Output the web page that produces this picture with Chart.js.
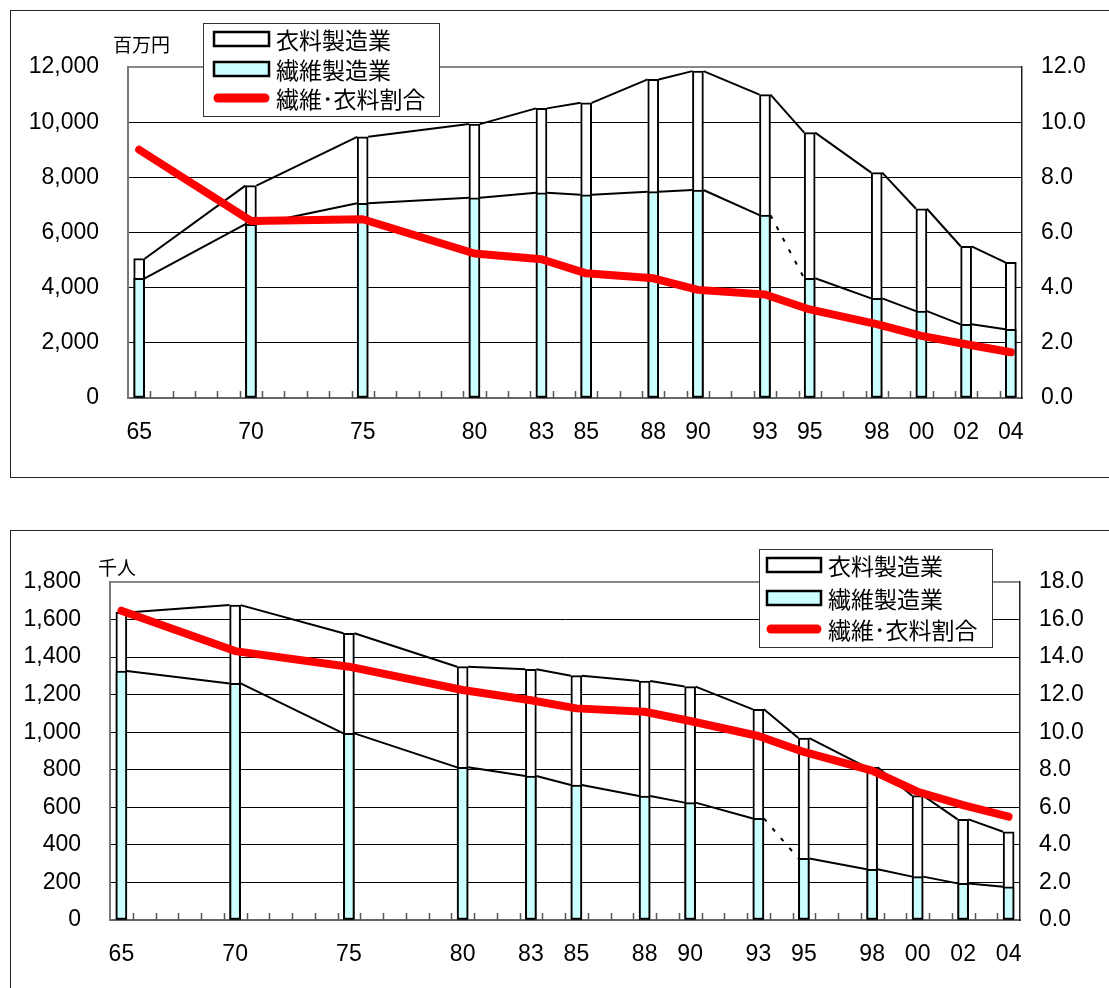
<!DOCTYPE html>
<html lang="ja">
<head>
<meta charset="utf-8">
<title>衣料製造業・繊維製造業の推移</title>
<script src="https://cdn.jsdelivr.net/npm/chart.js@4/dist/chart.umd.min.js"></script>
<style>
  html, body { margin: 0; padding: 0; background: #fff; overflow: hidden; }
  body { width: 1109px; height: 988px; position: relative; }
  .frame { position: absolute; border: 1px solid #222; box-sizing: border-box; }
  canvas { position: absolute; left: 0; }
</style>
</head>
<body>
<div class="frame" style="left:10px; top:10px; width:1200px; height:468px;"></div>
<div class="frame" style="left:10px; top:530px; width:1200px; height:520px;"></div>
<canvas id="salesChart" width="1109" height="500" style="top:0"></canvas>
<canvas id="workersChart" width="1109" height="488" style="top:500px"></canvas>

<script>
// ---- data ----
const years = [1965, 1970, 1975, 1980, 1983, 1985, 1988, 1990, 1993, 1995, 1998, 2000, 2002, 2004];
const yearLabels = ['65', '70', '75', '80', '83', '85', '88', '90', '93', '95', '98', '00', '02', '04'];
const seriesNames = ['衣料製造業', '繊維製造業', '繊維･衣料割合'];

// 出荷額 (百万円)
const salesApparel = [5050, 7700, 9470, 9930, 10500, 10700, 11550, 11850, 11000, 9620, 8170, 6860, 5500, 4920];
const salesTextile = [4340, 6300, 7060, 7260, 7440, 7370, 7480, 7540, 6630, 4340, 3610, 3150, 2670, 2490];
const salesRatio   = [9.0, 6.42, 6.48, 5.24, 5.03, 4.52, 4.34, 3.92, 3.75, 3.21, 2.68, 2.25, 1.95, 1.66];

// 従業者数 (千人)
const workersApparel = [1638, 1677, 1527, 1349, 1335, 1301, 1273, 1243, 1122, 969, 813, 662, 536, 470];
const workersTextile = [1326, 1260, 994, 813, 767, 719, 660, 625, 541, 328, 270, 231, 195, 177];
const workersRatio   = [16.47, 14.32, 13.49, 12.25, 11.7, 11.27, 11.09, 10.6, 9.8, 8.95, 7.95, 6.83, 6.12, 5.5];

// 1993→1995 は統計区分の変更により点線で接続
const textileBreakYear = 1993;

// ---- plugins ----
// lines joining the tops of neighbouring bars
const seriesLines = {
  id: 'seriesLines',
  beforeDatasetDraw(chart, args) {
    if (chart.data.datasets[args.index].type !== 'line') return;
    const ctx = chart.ctx;
    chart.data.datasets.forEach((ds, di) => {
      if (ds.type === 'line') return;
      const bars = chart.getDatasetMeta(di).data;
      ctx.save();
      ctx.strokeStyle = '#000';
      ctx.lineWidth = 2;
      for (let i = 0; i < bars.length - 1; i++) {
        const a = bars[i], b = bars[i + 1];
        const dashed = ds.breakYear !== undefined && ds.data[i].x === ds.breakYear;
        ctx.setLineDash(dashed ? [4, 9] : []);
        ctx.beginPath();
        ctx.moveTo(a.x + a.width / 2, a.y);
        ctx.lineTo(b.x - b.width / 2, b.y);
        ctx.stroke();
      }
      ctx.restore();
    });
  }
};

// small year tick marks standing on the x axis
const yearTicks = {
  id: 'yearTicks',
  afterDraw(chart) {
    const sx = chart.scales.x;
    const bottom = chart.chartArea.bottom;
    const ctx = chart.ctx;
    ctx.save();
    ctx.strokeStyle = '#555';
    ctx.lineWidth = 1.5;
    ctx.beginPath();
    for (let v = sx.min + 1; v < sx.max; v += 1) {
      const px = Math.round(sx.getPixelForValue(v)) + 0.5;
      ctx.moveTo(px, bottom);
      ctx.lineTo(px, bottom - 7);
    }
    ctx.stroke();
    ctx.restore();
  }
};

// unit caption above the left axis
const unitCaption = {
  id: 'unitCaption',
  afterDraw(chart, args, opts) {
    const ctx = chart.ctx;
    ctx.save();
    ctx.fillStyle = '#000';
    ctx.font = "19px 'Noto Sans CJK JP'";
    ctx.textBaseline = 'middle';
    ctx.textAlign = 'left';
    ctx.fillText(opts.text, opts.x, opts.y);
    ctx.restore();
  }
};

// framed legend placed inside the plot
const boxLegend = {
  id: 'boxLegend',
  afterDraw(chart, args, opts) {
    const ctx = chart.ctx;
    ctx.save();
    ctx.fillStyle = '#fff';
    ctx.fillRect(opts.x, opts.y, opts.w, opts.h);
    ctx.strokeStyle = '#333';
    ctx.lineWidth = 1;
    ctx.strokeRect(opts.x + 0.5, opts.y + 0.5, opts.w - 1, opts.h - 1);
    ctx.font = "23px 'Noto Sans CJK JP'";
    ctx.textBaseline = 'middle';
    ctx.textAlign = 'left';
    chart.data.datasets.forEach((ds, i) => {
      const cy = opts.y + opts.rows[i];
      if (ds.type === 'line') {
        ctx.strokeStyle = ds.borderColor;
        ctx.lineWidth = 9;
        ctx.lineCap = 'round';
        ctx.beginPath();
        ctx.moveTo(opts.symX + 4, cy);
        ctx.lineTo(opts.symX + opts.symW - 4, cy);
        ctx.stroke();
      } else {
        ctx.fillStyle = ds.backgroundColor;
        ctx.fillRect(opts.symX, cy - 7, opts.symW, 14);
        ctx.strokeStyle = ds.borderColor;
        ctx.lineWidth = 2.5;
        ctx.strokeRect(opts.symX, cy - 7, opts.symW, 14);
      }
      ctx.fillStyle = '#000';
      ctx.fillText(ds.label, opts.textX, cy + 1);
    });
    ctx.restore();
  }
};

Chart.defaults.font.family = "'Liberation Sans', Arial, sans-serif";
Chart.defaults.font.size = 23;
Chart.defaults.color = '#000';

function points(vals) {
  return years.map((x, i) => ({ x, y: vals[i] }));
}

function buildChart(canvas, cfg) {
  const W = canvas.width, H = canvas.height;
  const area = cfg.area;
  return new Chart(canvas, {
    type: 'bar',
    data: {
      datasets: [
        {
          label: seriesNames[0], type: 'bar', data: points(cfg.apparel),
          backgroundColor: '#ffffff', borderColor: '#000', borderWidth: 2,
          borderSkipped: false, barThickness: 11, grouped: false, order: 3
        },
        {
          label: seriesNames[1], type: 'bar', data: points(cfg.textile),
          backgroundColor: '#ccffff', borderColor: '#000', borderWidth: 2,
          borderSkipped: false, barThickness: 11, grouped: false, order: 2,
          breakYear: textileBreakYear
        },
        {
          label: seriesNames[2], type: 'line', data: points(cfg.ratio), yAxisID: 'y1',
          borderColor: '#ff0000', borderWidth: 8, pointRadius: 0, tension: 0,
          borderCapStyle: 'round', borderJoinStyle: 'round', order: 1
        }
      ]
    },
    options: {
      responsive: false,
      animation: false,
      events: [],
      layout: { padding: { top: area.top, left: 0, right: 0, bottom: 0 } },
      plugins: {
        legend: { display: false },
        tooltip: { enabled: false },
        unitCaption: cfg.unit,
        boxLegend: cfg.legend
      },
      scales: {
        x: {
          type: 'linear', min: 1964.5, max: 2004.5, offset: false,
          grid: { drawOnChartArea: false, drawTicks: false, offset: false },
          border: { display: true, color: '#666', width: 2 },
          afterBuildTicks: s => { s.ticks = years.map(v => ({ value: v })); },
          ticks: {
            autoSkip: false, maxRotation: 0, minRotation: 0, padding: 21,
            callback: (v, i) => yearLabels[i]
          },
          afterFit: s => { s.height = H - area.bottom; }
        },
        y: {
          position: 'left', min: 0, max: cfg.leftMax,
          ticks: { stepSize: cfg.leftStep, padding: 29, callback: v => v.toLocaleString('en-US') },
          grid: {
            drawTicks: false,
            color: c => (c.tick && c.tick.value === cfg.leftMax) ? '#888' : '#000',
            lineWidth: c => (c.tick && c.tick.value === cfg.leftMax) ? 2 : 1
          },
          border: { color: '#777', width: 2 },
          afterFit: s => { s.width = area.left; }
        },
        y1: {
          position: 'right', min: 0, max: cfg.rightMax,
          ticks: { stepSize: cfg.rightStep, padding: 19, callback: v => v.toFixed(1) },
          grid: { drawOnChartArea: false, drawTicks: false },
          border: { color: '#222', width: 1.5 },
          afterFit: s => { s.width = W - area.right; }
        }
      }
    },
    plugins: [seriesLines, yearTicks, unitCaption, boxLegend]
  });
}

buildChart(document.getElementById('salesChart'), {
  apparel: salesApparel, textile: salesTextile, ratio: salesRatio,
  leftMax: 12000, leftStep: 2000, rightMax: 12, rightStep: 2,
  area: { left: 128, right: 1022, top: 67, bottom: 398 },
  unit: { text: '百万円', x: 113, y: 45 },
  legend: { x: 203, y: 23, w: 237, h: 94, rows: [16, 46, 75], symX: 214, symW: 55, textX: 276 }
});

buildChart(document.getElementById('workersChart'), {
  apparel: workersApparel, textile: workersTextile, ratio: workersRatio,
  leftMax: 1800, leftStep: 200, rightMax: 18, rightStep: 2,
  area: { left: 110, right: 1020, top: 82, bottom: 420 },
  unit: { text: '千人', x: 98, y: 68 },
  legend: { x: 759, y: 49, w: 234, h: 99, rows: [16, 49, 80], symX: 767, symW: 54, textX: 828 }
});
</script>
</body>
</html>
